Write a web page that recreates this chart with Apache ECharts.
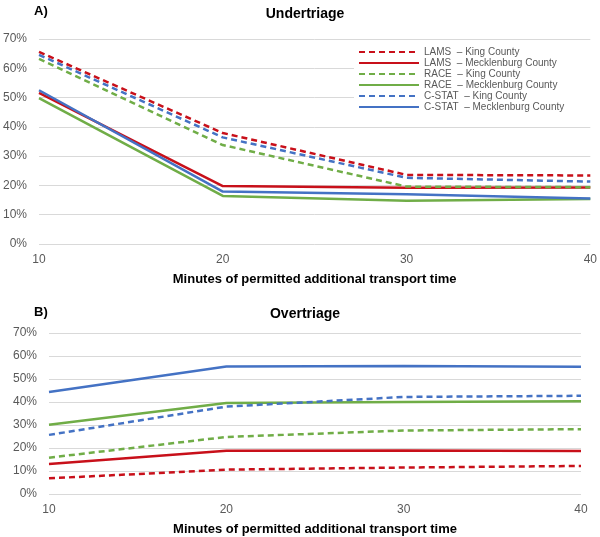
<!DOCTYPE html>
<html>
<head>
<meta charset="utf-8">
<script src="https://cdn.jsdelivr.net/npm/echarts@6/dist/echarts.min.js"></script>
<style>
html,body{margin:0;padding:0;background:#fff;}
#main{width:600px;height:537px;}
</style>
</head>
<body>
<div id="main"></div>
<script>
var minutes = ['10', '20', '30', '40'];
var names = ['LAMS  \u2013 King County', 'LAMS  \u2013 Mecklenburg County', 'RACE  \u2013 King County',
    'RACE  \u2013 Mecklenburg County', 'C-STAT  \u2013 King County', 'C-STAT  \u2013 Mecklenburg County'];
var colors = ['#c8101a', '#c8101a', '#70ad47', '#70ad47', '#4472c4', '#4472c4'];
var dashed = [true, false, true, false, true, false];

// undertriage, %
var underLamsKing = [65.6, 37.9, 23.6, 23.4];
var underLamsMeck = [51.6, 19.8, 19.2, 19.3];
var underRaceKing = [63.2, 33.8, 19.6, 19.4];
var underRaceMeck = [49.8, 16.4, 14.8, 15.4];
var underCstatKing = [64.6, 36.4, 22.6, 21.3];
var underCstatMeck = [52.5, 17.9, 17.0, 15.5];

// overtriage, %
var overLamsKing = [6.8, 10.6, 11.5, 12.2];
var overLamsMeck = [13.0, 18.8, 18.9, 18.7];
var overRaceKing = [15.8, 24.8, 27.6, 28.2];
var overRaceMeck = [30.1, 39.6, 40.0, 40.3];
var overCstatKing = [25.7, 38.0, 42.2, 42.7];
var overCstatMeck = [44.3, 55.4, 55.6, 55.3];

var pct = ['0%', '10%', '20%', '30%', '40%', '50%', '60%', '70%'];

var underData = [underLamsKing, underLamsMeck, underRaceKing, underRaceMeck, underCstatKing, underCstatMeck];
var overData = [overLamsKing, overLamsMeck, overRaceKing, overRaceMeck, overCstatKing, overCstatMeck];

var font = 'Liberation Sans';

var makeSeries = function (data, idx) {
    var out = [];
    for (var i = 0; i < data.length; i++) {
        out.push({
            name: names[i],
            type: 'line',
            xAxisIndex: idx,
            yAxisIndex: idx,
            data: data[i],
            symbol: 'none',
            silent: true,
            lineStyle: {
                color: colors[i],
                width: 2.5,
                type: dashed[i] ? [6, 4] : 'solid'
            },
            itemStyle: {color: colors[i]}
        });
    }
    return out;
};

var xAx = function (idx, name) {
    return {
        type: 'category',
        gridIndex: idx,
        data: minutes,
        boundaryGap: false,
        axisLine: {show: false},
        axisTick: {show: false},
        axisLabel: {color: '#595959', fontFamily: font, fontSize: 12, margin: 10},
        name: name,
        nameLocation: 'middle',
        nameGap: 29,
        nameTextStyle: {color: '#000', fontFamily: font, fontSize: 13, fontWeight: 'bold'}
    };
};

var yAx = function (idx) {
    return {
        type: 'value',
        gridIndex: idx,
        min: 0,
        max: 70,
        interval: 10,
        axisLine: {show: false},
        axisTick: {show: false},
        splitLine: {lineStyle: {color: '#d9d9d9', width: 1}},
        axisLabel: {
            color: '#595959', fontFamily: font, fontSize: 12, margin: 12,
            formatter: function (v) { return pct[Math.round(v / 10)]; }
        }
    };
};

var myChart = echarts.init(document.getElementById('main'));
var option = {
    animation: false,
    backgroundColor: '#fff',
    title: [
        {text: 'A)', left: 29, top: 0, textStyle: {fontFamily: font, fontSize: 13, fontWeight: 'bold', color: '#000'}},
        {text: 'Undertriage', left: 300, top: 2, textAlign: 'center', textStyle: {fontFamily: font, fontSize: 14, fontWeight: 'bold', color: '#000'}},
        {text: 'B)', left: 29, top: 301, textStyle: {fontFamily: font, fontSize: 13, fontWeight: 'bold', color: '#000'}},
        {text: 'Overtriage', left: 300, top: 302, textAlign: 'center', textStyle: {fontFamily: font, fontSize: 14, fontWeight: 'bold', color: '#000'}}
    ],
    legend: {
        data: names,
        orient: 'vertical',
        left: 354,
        top: 43,
        itemWidth: 60,
        itemHeight: 9,
        itemGap: 1,
        padding: [4, 30, 4, 4],
        backgroundColor: '#fff',
        selectedMode: false,
        itemStyle: {color: 'transparent', borderColor: 'transparent', borderWidth: 0, opacity: 0},
        textStyle: {color: '#595959', fontFamily: font, fontSize: 10, lineHeight: 10}
    },
    grid: [
        {left: 38, right: 8, top: 39, height: 205, containLabel: false},
        {left: 49, right: 19, top: 333, height: 164, containLabel: false}
    ],
    xAxis: [xAx(0, 'Minutes of permitted additional transport time'), xAx(1, 'Minutes of permitted additional transport time')],
    yAxis: [yAx(0), yAx(1)],
    series: makeSeries(underData, 0).concat(makeSeries(overData, 1))
};
myChart.setOption(option);
</script>
</body>
</html>
